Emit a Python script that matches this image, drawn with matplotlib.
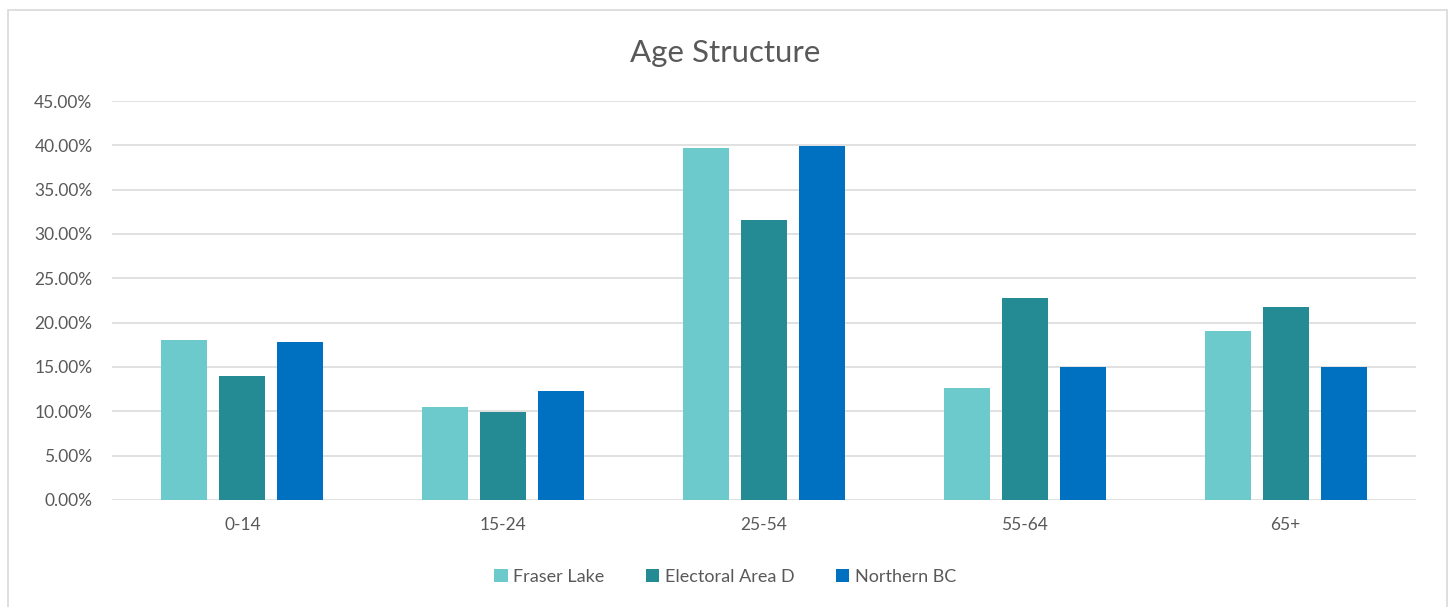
import numpy as np
import matplotlib.pyplot as plt
from matplotlib.patches import Rectangle
from matplotlib.ticker import FuncFormatter

#%% datos
grupos = ['0-14', '15-24', '25-54', '55-64', '65+']
fraser_lake = [18.1, 10.5, 39.7, 12.6, 19.1]
electoral_d = [14.0, 9.9, 31.6, 22.8, 21.8]
northern_bc = [17.8, 12.3, 39.9, 15.0, 15.0]
series = ['Fraser Lake', 'Electoral Area D', 'Northern BC']
colores = ['#6CCACC', '#248A94', '#0070C0']

plt.rcParams['font.family'] = ['Lato', 'DejaVu Sans']
gris = '#595959'

#%% figura
fig = plt.figure(figsize=(14.5, 6.07), dpi=100)
ax = fig.add_axes([0.0772, 0.1763, 0.8994, 0.6573])

x = np.arange(len(grupos))
ancho = 0.176
paso = 0.222
for i, (vals, nom, col) in enumerate(zip([fraser_lake, electoral_d, northern_bc], series, colores)):
    ax.bar(x + (i - 1) * paso, vals, ancho, color=col, label=nom, zorder=3)

ax.set_xlim(-0.5, len(grupos) - 0.5)
ax.set_ylim(0, 45)
ax.set_yticks(np.arange(0, 46, 5))
ax.yaxis.set_major_formatter(FuncFormatter(lambda v, p: '%.2f%%' % v))
ax.set_xticks(x)
ax.set_xticklabels(grupos)
ax.tick_params(axis='both', length=0, labelsize=12.5, colors=gris)
ax.tick_params(axis='y', pad=14)
ax.tick_params(axis='x', pad=12)
ax.grid(axis='y', color='#D9D9D9', linewidth=1.1, zorder=0)
for s in ax.spines.values():
    s.set_visible(False)

fig.text(0.5, 0.913, 'Age Structure', ha='center', va='center', fontsize=22.5, color=gris)

ax.legend(loc='center', bbox_to_anchor=(0.5, 0.05), bbox_transform=fig.transFigure,
          ncol=3, frameon=False, fontsize=13, labelcolor=gris, handlelength=0.75,
          handleheight=0.75, handletextpad=0.3, columnspacing=2.3)

# borde del grafico
fig.patches.append(Rectangle((8 / 1450, -0.01), 1439 / 1450, 1 - 10 / 607 + 0.01,
                             transform=fig.transFigure, fill=False,
                             edgecolor='#D9D9D9', linewidth=1.2))

plt.savefig('out.png', dpi=100)
